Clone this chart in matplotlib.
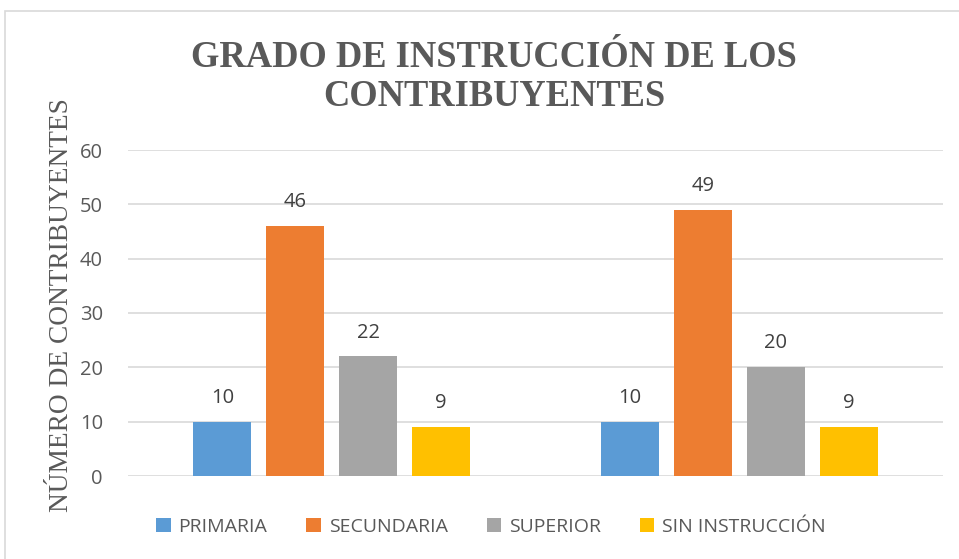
import matplotlib
matplotlib.use("Agg")
import matplotlib.pyplot as plt
import numpy as np
from matplotlib.patches import Rectangle

groups = ["", ""]
series = ["PRIMARIA", "SECUNDARIA", "SUPERIOR", "SIN INSTRUCCIÓN"]
values = {
    "PRIMARIA": [10, 10],
    "SECUNDARIA": [46, 49],
    "SUPERIOR": [22, 20],
    "SIN INSTRUCCIÓN": [9, 9],
}
colors = ["#5B9BD5", "#ED7D31", "#A5A5A5", "#FFC000"]
yticks = [0, 10, 20, 30, 40, 50, 60]
title = "GRADO DE INSTRUCCIÓN DE LOS\nCONTRIBUYENTES"
ylabel = "NÚMERO DE CONTRIBUYENTES"

W, H = 959, 559
fig = plt.figure(figsize=(W / 100, H / 100), dpi=100)
fig.patch.set_facecolor("white")
fig.patches.append(Rectangle((5 / W, -0.1), 1.2, 1 - 11 / H + 0.1, transform=fig.transFigure,
                             fill=False, edgecolor="#D9D9D9", linewidth=1.2))

ax = fig.add_axes([128 / W, 1 - 476 / H, (943 - 128) / W, (476 - 150) / H])
x = np.arange(len(groups))
bw = 58 / 407.5
step = 73 / 407.5
for i, (s, c) in enumerate(zip(series, colors)):
    xs = x + (i - 1.5) * step
    bars = ax.bar(xs, values[s], width=bw, color=c, label=s, zorder=3)
    for xi, v in zip(xs, values[s]):
        ax.annotate(str(v), (xi, v), xytext=(0, 10), textcoords="offset points",
                    ha="center", va="bottom", fontsize=14.5, color="#404040",
                    family="Open Sans")

ax.set_xlim(-0.5, 1.5)
ax.set_ylim(0, 60)
ax.set_yticks(yticks)
ax.set_yticklabels([str(t) for t in yticks], fontsize=14.5, color="#595959", family="Open Sans")
ax.set_xticks([])
ax.tick_params(axis="y", length=0, pad=18)
ax.grid(axis="y", color="#D9D9D9", linewidth=1.2, zorder=0)
for sp in ax.spines.values():
    sp.set_visible(False)

ax.set_ylabel(ylabel, family="Liberation Serif", fontsize=19.7, color="#595959")
ax.yaxis.set_label_coords(-0.066, 0.525)

fig.text(0.515, 1 - 77 / H, title, ha="center", va="center", family="Liberation Serif",
         fontweight="bold", fontsize=26.3, color="#595959", linespacing=1.12)

leg = fig.legend(loc="center", bbox_to_anchor=(0.512, 1 - 527 / H), ncol=4, frameon=False,
                 prop={"family": "Open Sans", "size": 14}, handlelength=0.75, handleheight=0.75,
                 columnspacing=2.0, handletextpad=0.4)
for t in leg.get_texts():
    t.set_color("#595959")

fig.savefig("out.png", dpi=100)
